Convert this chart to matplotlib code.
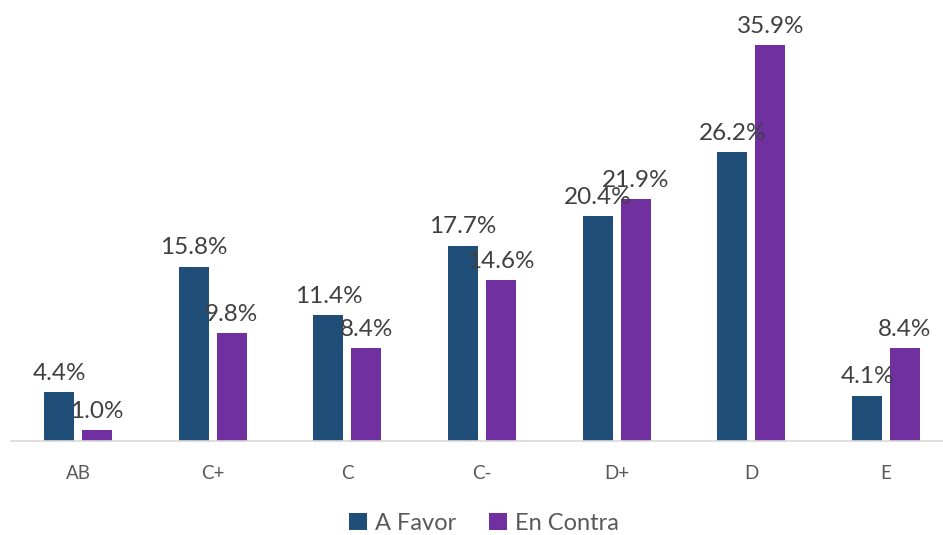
import matplotlib
matplotlib.use("Agg")
import matplotlib.pyplot as plt
import numpy as np

categories = ["AB", "C+", "C", "C-", "D+", "D", "E"]
a_favor = [4.4, 15.8, 11.4, 17.7, 20.4, 26.2, 4.1]
en_contra = [1.0, 9.8, 8.4, 14.6, 21.9, 35.9, 8.4]
series_names = ["A Favor", "En Contra"]

plt.rcParams['font.family'] = ['Lato', 'DejaVu Sans']

W, H = 943, 535
fig = plt.figure(figsize=(W/100, H/100), dpi=100)
left_px, right_px, base_px = 10.7, 943, 441
ax = fig.add_axes([left_px/W, (H-base_px)/H, (right_px-left_px)/W, base_px/H])

x = np.arange(len(categories))
bw = 0.223
off = 0.141
blue = "#1F4E79"
purple = "#7030A0"
b1 = ax.bar(x-off, a_favor, bw, color=blue, label=series_names[0])
b2 = ax.bar(x+off, en_contra, bw, color=purple, label=series_names[1])

for bars, vals in ((b1, a_favor), (b2, en_contra)):
    for r, v in zip(bars, vals):
        ax.annotate(f"{v:.1f}%", (r.get_x()+r.get_width()/2, v),
                    xytext=(0, 6), textcoords="offset points",
                    ha="center", va="bottom", fontsize=17.5, color="#404040")

span = 134.67
ax.set_xlim(-0.5, -0.5 + (right_px-left_px)/span)
ax.set_ylim(0, base_px/11.03)
ax.set_xticks(x)
ax.set_xticklabels(categories, fontsize=13.5, color="#595959")
ax.tick_params(axis='x', length=0, pad=17)
ax.set_yticks([])
for s in ["top", "right", "left"]:
    ax.spines[s].set_visible(False)
ax.spines["bottom"].set_color("#D9D9D9")
ax.spines["bottom"].set_linewidth(1.2)

fig.legend(handles=[b1, b2], labels=series_names, loc="center",
           bbox_to_anchor=(484/W, (H-523)/H), ncol=2, frameon=False,
           fontsize=17, handlelength=0.75, handleheight=0.75,
           columnspacing=1.4, handletextpad=0.35, labelcolor="#595959")

fig.savefig("out.png", dpi=100)
